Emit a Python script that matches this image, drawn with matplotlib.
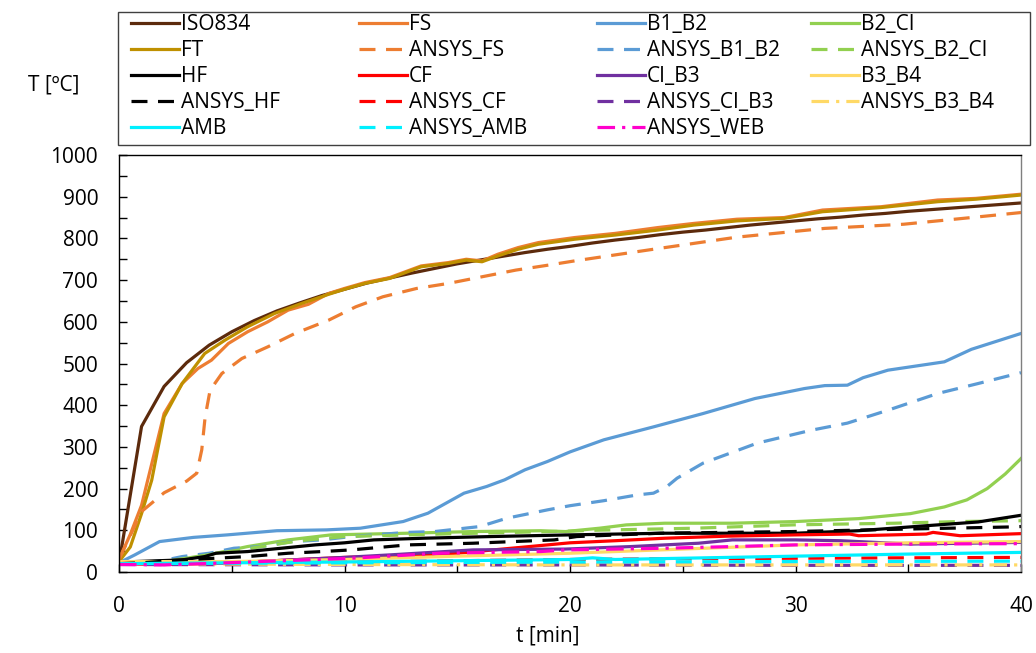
import numpy as np
import matplotlib
matplotlib.use("Agg")
import matplotlib.pyplot as plt
from matplotlib.ticker import MultipleLocator
from matplotlib.patches import Rectangle

plt.rcParams['font.family'] = ['Open Sans', 'DejaVu Sans']

# time grids [min]
t_full = [0, 1, 2, 3, 4, 5, 6, 7, 8, 9, 10, 11, 12, 13, 14, 15, 16, 17, 18, 19, 20,
          21, 22, 23, 24, 25, 26, 27, 28, 29, 30, 31, 32, 33, 34, 35, 36, 37, 38, 39, 40]

iso834 = [20, 349, 445, 502, 544, 576, 603, 626, 645, 663, 678, 693, 705, 717, 728, 739,
          748, 757, 766, 774, 781, 789, 796, 802, 809, 815, 820, 826, 832, 837, 842, 847,
          851, 856, 860, 865, 869, 873, 877, 881, 885]

t_fs = [0, 0.5, 1, 2, 2.8, 3.5, 4.1, 4.85, 5.7, 6.6, 7.5, 8.4, 9.3, 10, 10.9, 12, 13.4, 14.6,
        15.4, 16.1, 16.8, 17.7, 18.6, 20.2, 22, 23.9, 25.5, 27.4, 29.5, 31.2, 33.8, 36.3, 38, 40]
fs = [30, 90, 160, 380, 452, 488, 508, 548, 576, 600, 628, 642, 668, 680, 694, 706, 734, 742,
      750, 746, 762, 778, 790, 802, 812, 826, 836, 846, 850, 868, 876, 892, 896, 906]

t_ft = [0, 0.5, 1, 1.45, 2, 2.8, 3.8, 4.7, 5.7, 6.9, 8.1, 9.3, 10, 10.9, 12, 13.4, 14.6,
        15.4, 16.1, 16.8, 17.7, 18.6, 20.2, 22, 23.9, 25.5, 27.4, 29.5, 31.2, 33.8, 36.3, 38, 40]
ft = [25, 60, 140, 220, 372, 452, 524, 556, 588, 620, 644, 666, 678, 692, 704, 732, 740,
      748, 744, 758, 774, 786, 798, 808, 820, 832, 842, 848, 864, 874, 888, 894, 904]

t_afs = [0, 1, 2, 3, 3.45, 3.67, 3.82, 4.04, 4.56, 5.45, 6.6, 7.8, 9.3, 10.5, 11.7, 13.2,
         14.6, 16.1, 17.6, 19.05, 20.2, 23.7, 27.4, 31.3, 34.8, 37.8, 40]
ansys_fs = [30, 145, 190, 218, 237, 293, 372, 436, 476, 512, 540, 572, 604, 636, 660, 680,
            692, 708, 724, 736, 746, 774, 803, 824, 834, 850, 862]

t_b12 = [0, 0.7, 1.8, 3.3, 4.8, 7, 9.2, 10.7, 12.6, 13.7, 15.3, 16.3, 17.1, 18, 19, 20, 21.5,
         23.7, 25.9, 28.2, 30.4, 31.3, 32.3, 33, 34.1, 35.6, 36.6, 37.8, 40]
b1_b2 = [22, 41, 73, 83, 89, 99, 101, 105, 121, 141, 189, 205, 221, 245, 265, 288, 317,
         348, 380, 416, 440, 447, 448, 466, 484, 496, 504, 534, 572]

t_ab12 = [0, 1, 2, 2.8, 4, 5.1, 6.3, 7.7, 9, 10.3, 12.8, 14, 16, 17.2, 19, 20, 21.5, 23,
          23.7, 24.3, 24.75, 25.9, 28.3, 30.7, 32.3, 34.1, 36.3, 38.1, 40]
ansys_b1_b2 = [20, 22, 28, 37, 45, 57, 61, 73, 77, 85, 95, 97, 109, 129, 149, 159, 171, 185,
               189, 205, 225, 261, 309, 340, 357, 388, 428, 452, 478]

t_b2ci = [0, 2, 3, 4.3, 5.7, 7.5, 9.4, 12.8, 15.7, 18.7, 19.8, 21.3, 22.5, 24.2, 27.2, 30,
          32.8, 35.1, 36.6, 37.6, 38.5, 39.3, 40]
b2_ci = [20, 25, 33, 45, 61, 77, 89, 93, 97, 99, 97, 105, 113, 117, 117, 121, 128, 140,
         156, 173, 200, 235, 272]

t_ab2ci = [0, 2, 5, 8, 10, 15, 20, 21, 25.5, 29.9, 34.4, 37.3, 40]
ansys_b2_ci = [20, 25, 50, 75, 85, 92, 98, 100, 105, 113, 117, 121, 123]

t_hf = [0, 0.7, 2.8, 3.8, 4.3, 5.7, 7.2, 8.7, 10, 11.3, 13.5, 16.5, 20, 24.2, 30, 32.8,
        35.8, 38.1, 40]
hf = [20, 25, 29, 37, 45, 49, 57, 65, 70, 77, 81, 85, 89, 93, 93, 99, 111, 120, 136]

t_ahf = [0, 1, 2.8, 5.7, 7.5, 9, 10.3, 12.8, 15.7, 19.3, 20.3, 24, 29.9, 34.1, 39.5, 40]
ansys_hf = [20, 22, 29, 37, 45, 49, 53, 65, 69, 77, 85, 93, 97, 102, 108, 109]

t_cf = [0, 2, 5, 8, 10, 12, 15, 17, 20, 22, 24.2, 27, 30, 32.4, 32.8, 35.8, 36.1, 37.3, 40]
cf = [20, 18, 22, 30, 35, 38, 45, 55, 70, 75, 81, 86, 89, 91, 87, 91, 95, 87, 92]

t_ci3 = [0, 5, 8, 10, 12, 15.7, 19.8, 22.7, 25.7, 27.2, 30, 32, 35.1, 40]
ci_b3 = [20, 22, 30, 35, 41, 53, 55, 61, 69, 77, 77, 75, 67, 71]

t_b34 = [0, 5, 10, 15, 20, 25, 30, 35, 40]
b3_b4 = [25, 25, 30, 38, 45, 55, 65, 70, 73]

t_web = [0, 2, 4.3, 6.2, 8.3, 10.3, 14.2, 18.7, 19.8, 24.2, 27.2, 30, 35, 40]
ansys_web = [18, 17, 21, 25, 29, 33, 45, 49, 53, 57, 61, 65, 67, 68]

t_amb = [0, 5, 10, 15, 20, 21, 22, 25, 30, 35, 40]
amb = [20, 22, 24, 27, 30, 34, 30, 33, 38, 43, 47]

t_aamb = [0, 10, 20, 30, 40]
ansys_amb = [20, 22, 24, 25, 26]

t_acf = [0, 5, 10, 15, 20, 25, 30, 35, 40]
ansys_cf = [20, 20, 23, 27, 30, 32, 33, 34, 35]

t_aci3 = [0, 10, 20, 30, 40]
ansys_ci_b3 = [18, 17, 17, 16, 16]

t_ab34 = [0, 10, 20, 30, 40]
ansys_b3_b4 = [20, 18, 17, 17, 17]

dash = (5, 3.3)
dashdot = (5.5, 2.2, 1, 2.2)

W, H = 1036, 653
fig = plt.figure(figsize=(W / 100, H / 100), dpi=100)
ax = fig.add_axes([119 / W, 1 - 572 / H, 902 / W, 417 / H])
lw = 2.3

h = {}
h['ISO834'], = ax.plot(t_full, iso834, color='#5C2A0C', lw=lw)
h['FS'], = ax.plot(t_fs, fs, color='#ED7D31', lw=lw)
h['B1_B2'], = ax.plot(t_b12, b1_b2, color='#5B9BD5', lw=lw)
h['B2_CI'], = ax.plot(t_b2ci, b2_ci, color='#92D050', lw=lw)
h['FT'], = ax.plot(t_ft, ft, color='#BF9000', lw=lw)
h['ANSYS_FS'], = ax.plot(t_afs, ansys_fs, color='#ED7D31', lw=lw, dashes=dash)
h['ANSYS_B1_B2'], = ax.plot(t_ab12, ansys_b1_b2, color='#5B9BD5', lw=lw, dashes=dash)
h['ANSYS_B2_CI'], = ax.plot(t_ab2ci, ansys_b2_ci, color='#92D050', lw=lw, dashes=dash)
h['HF'], = ax.plot(t_hf, hf, color='black', lw=lw)
h['CF'], = ax.plot(t_cf, cf, color='#FF0000', lw=lw)
h['CI_B3'], = ax.plot(t_ci3, ci_b3, color='#7030A0', lw=lw)
h['B3_B4'], = ax.plot(t_b34, b3_b4, color='#FFD966', lw=lw)
h['ANSYS_HF'], = ax.plot(t_ahf, ansys_hf, color='black', lw=lw, dashes=dash)
h['ANSYS_CF'], = ax.plot(t_acf, ansys_cf, color='#FF0000', lw=lw, dashes=dash)
h['ANSYS_CI_B3'], = ax.plot(t_aci3, ansys_ci_b3, color='#7030A0', lw=lw, dashes=dash)
h['ANSYS_B3_B4'], = ax.plot(t_ab34, ansys_b3_b4, color='#FFD966', lw=lw, dashes=dashdot)
h['AMB'], = ax.plot(t_amb, amb, color='#00F0FF', lw=lw)
h['ANSYS_AMB'], = ax.plot(t_aamb, ansys_amb, color='#00F0FF', lw=lw, dashes=dash)
h['ANSYS_WEB'], = ax.plot(t_web, ansys_web, color='#FF00CC', lw=lw, dashes=dashdot)

ax.set_xlim(0, 40)
ax.set_ylim(0, 1000)
ax.xaxis.set_major_locator(MultipleLocator(10))
ax.xaxis.set_minor_locator(MultipleLocator(5))
ax.yaxis.set_major_locator(MultipleLocator(100))
ax.yaxis.set_minor_locator(MultipleLocator(50))
ax.tick_params(which='both', direction='in', top=False, right=False, labelsize=15,
               width=1, length=6)
ax.tick_params(axis='x', pad=17)
ax.tick_params(axis='y', pad=15)
for s in ax.spines.values():
    s.set_linewidth(1)
ax.spines['right'].set_color('#7f7f7f')

fig.text(28 / W, 1 - 85 / H, 'T [ºC]', fontsize=15, va='center', ha='left')
fig.text(548 / W, 1 - 636 / H, 't [min]', fontsize=15, va='center', ha='center')

# legend frame drawn separately, one legend per column inside it
fig.patches.append(Rectangle((118 / W, 1 - 145 / H), 912 / W, 133 / H,
                             transform=fig.transFigure, fill=False,
                             edgecolor='#404040', lw=1))

columns = [['ISO834', 'FT', 'HF', 'ANSYS_HF', 'AMB'],
           ['FS', 'ANSYS_FS', 'CF', 'ANSYS_CF', 'ANSYS_AMB'],
           ['B1_B2', 'ANSYS_B1_B2', 'CI_B3', 'ANSYS_CI_B3', 'ANSYS_WEB'],
           ['B2_CI', 'ANSYS_B2_CI', 'B3_B4', 'ANSYS_B3_B4']]
col_x = [131, 359, 597, 811]
for names, x0 in zip(columns, col_x):
    fig.legend([h[k] for k in names], names, loc='upper left',
               bbox_to_anchor=(x0 / W, 1 - 14 / H), fontsize=15,
               handlelength=2.3, handletextpad=0.1, labelspacing=0.24,
               borderpad=0, frameon=False, borderaxespad=0)

fig.savefig('out.png', dpi=100)
